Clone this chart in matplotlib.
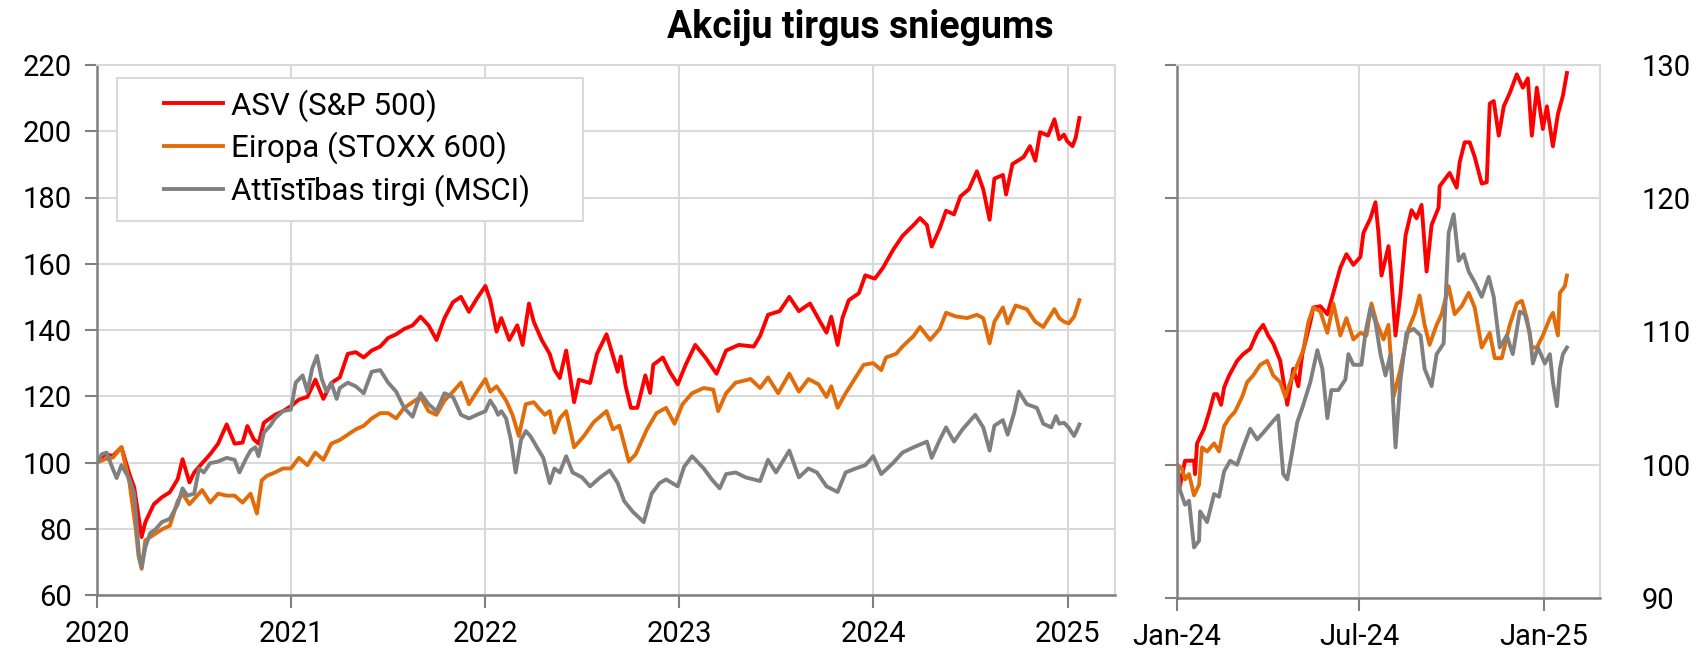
"""Akciju tirgus sniegums: two-panel stock index chart (2020-2025 and 2024-2025 rebased)."""

import matplotlib
matplotlib.use("Agg")
import matplotlib.pyplot as plt
import matplotlib.dates as mdates
from matplotlib.patches import Rectangle
import numpy as np

plt.rcParams["font.family"] = ["Roboto", "DejaVu Sans"]

# ---- long panel: months since 2020-01-01, index (2020-01 = 100) ----
spx_m = [0, 0.5, 1, 1.5, 2, 2.3, 2.55, 2.75, 3, 3.5, 4, 4.5, 5, 5.3, 5.7, 6, 6.5, 7, 7.5, 8, 8.5, 9, 9.3, 9.7,
         10, 10.3, 11, 11.5, 12, 12.5, 13, 13.5, 14, 14.5, 15, 15.5, 16, 16.5, 17, 17.5, 18, 18.5, 19, 19.5,
         20, 20.5, 21, 21.5, 22, 22.5, 23, 23.5, 24, 24.3, 24.7, 25, 25.5, 26, 26.3, 26.7, 27, 27.5, 28, 28.3,
         28.6, 29, 29.5, 29.8, 30.5, 30.9, 31.5, 32.2, 32.4, 32.7, 33, 33.4, 33.9, 34.2, 34.4, 35, 35.4, 35.9,
         36.4, 37, 37.6, 38.3, 38.9, 39.7, 40.6, 41, 41.5, 42.2, 42.8, 43.4, 44.1, 44.7, 45.1, 45.4, 45.8, 46.1,
         46.5, 47.1, 47.5, 48.1, 48.6, 49.2, 49.8, 50.5, 50.9, 51.3, 51.6, 52.1, 52.5, 53, 53.4, 53.9, 54.4,
         54.8, 55.2, 55.5, 56, 56.2, 56.6, 57.3, 57.7, 58, 58.3, 58.8, 59.2, 59.5, 59.8, 60, 60.3, 60.5, 60.75]
spx_v = [100, 102.5, 102, 104.6, 96.5, 92.5, 84, 77.5, 82, 87.4, 89.5, 91, 95, 101, 94, 97, 99.8, 102.5, 105.7,
         111.5, 105.7, 106, 111, 107, 105.7, 112, 114.4, 115.5, 117, 119, 119.8, 125, 119.2, 124, 125.7, 132.8,
         133.3, 131.7, 133.8, 135, 137.6, 138.7, 140.3, 141.4, 144, 141.4, 137, 143.6, 148.4, 150, 145.5, 149.5,
         153.3, 149, 139.5, 143.6, 137, 141.4, 135.5, 148, 142.5, 137, 132.8, 128, 125.5, 133.8, 118.2, 125, 124,
         132.8, 138.7, 127.4, 132, 123, 116.5, 116.5, 126.3, 121, 129.5, 131.7, 127.4, 123.6, 129.5, 135.5,
         131.7, 126.8, 133.8, 135.5, 135, 138.2, 144.6, 145.7, 150, 145.7, 148, 142.5, 139.2, 144, 135.5, 143.6,
         149, 151.1, 156.5, 155.5, 158.7, 164.1, 168.4, 171.7, 173.8, 171.7, 165.2, 170.6, 176, 174.9, 180.3,
         182.5, 187.9, 182.5, 173.3, 185.7, 186.8, 180.9, 190.1, 192.2, 195.5, 191.1, 199.7, 198.7, 203.6,
         197.6, 199, 197, 195.5, 198, 204]

stoxx_m = [0, 0.5, 1, 1.5, 2, 2.4, 2.55, 2.75, 3, 3.5, 4, 4.5, 5, 5.3, 5.7, 6, 6.5, 7, 7.5, 8, 8.5, 9, 9.5, 9.9,
           10.2, 10.5, 11, 11.5, 12, 12.5, 13, 13.5, 14, 14.5, 15, 15.5, 16, 16.5, 17, 17.5, 18, 18.5, 19, 19.5,
           20, 20.5, 21, 21.5, 22, 22.5, 23, 23.5, 24, 24.3, 24.7, 25, 25.3, 25.7, 26.1, 26.5, 27, 27.3, 27.7,
           28, 28.3, 28.6, 29, 29.5, 30.1, 30.7, 31.5, 31.9, 32.3, 32.9, 33.3, 34, 34.6, 35.2, 35.7, 36.2, 36.8,
           37.5, 38.1, 38.4, 38.9, 39.5, 40.4, 41, 41.5, 42.1, 42.8, 43.4, 44, 44.6, 45.1, 45.4, 45.8, 46.3,
           46.9, 47.4, 48, 48.5, 48.8, 49.4, 49.8, 50.5, 50.9, 51.5, 52.1, 52.5, 53.1, 53.8, 54.4, 54.8, 55.2,
           55.5, 56, 56.3, 56.8, 57.5, 58, 58.5, 59.2, 59.5, 59.8, 60.1, 60.4, 60.75]
stoxx_v = [100, 101, 101.5, 104.6, 94, 80, 72, 67.9, 76.5, 78.2, 79.8, 80.9, 88.4, 90.6, 87.4, 89, 91.7, 87.9,
           90.6, 90, 90, 87.9, 90.6, 84.6, 94.6, 96, 97, 98.2, 98.2, 101.4, 99.2, 103, 100.8, 105.7, 106.8, 108.4,
           110, 111.1, 113.3, 114.9, 114.9, 113.3, 116.5, 118.2, 119.8, 115.5, 114.4, 118.7, 121.4, 124.1, 117.6,
           121.4, 125.2, 121.4, 123, 120.9, 118.7, 114.4, 108, 117.6, 118.2, 116.5, 114.4, 115.5, 109, 113.3,
           115.5, 104.6, 107.9, 112.2, 115.5, 110, 111.1, 100.3, 102.5, 110, 114.9, 116.5, 111.7, 117.6, 120.9,
           122.5, 122, 115.5, 120.9, 124.1, 125.2, 122.5, 125.7, 120.9, 126.8, 121.4, 125.2, 123.6, 119.8, 123,
           116.5, 120.9, 125.7, 129.5, 130, 127.9, 131.7, 132.8, 135, 138.2, 140.9, 137, 140.3, 145.2, 144.1,
           143.6, 144.6, 143.6, 136, 142.5, 146.8, 142, 147.4, 146.3, 142.5, 140.9, 146.3, 143.6, 142.5, 142,
           144, 149]

msci_m = [0, 0.3, 0.6, 1, 1.2, 1.5, 2, 2.3, 2.6, 2.75, 3, 3.3, 3.6, 4, 4.5, 5, 5.3, 5.6, 6, 6.3, 6.6, 7, 7.5, 8,
          8.5, 8.8, 9.2, 9.5, 9.8, 10, 10.3, 10.7, 11, 11.5, 12, 12.3, 12.7, 13, 13.3, 13.6, 13.9, 14.2, 14.5,
          14.8, 15, 15.5, 16, 16.5, 17, 17.5, 18, 18.5, 19, 19.5, 20, 20.5, 21, 21.5, 22, 22.5, 23, 23.5, 24,
          24.3, 24.6, 24.8, 25, 25.3, 25.6, 25.9, 26.2, 26.5, 26.8, 27.2, 27.6, 28, 28.3, 28.6, 29, 29.4, 30,
          30.5, 31.1, 31.7, 32.2, 32.6, 33.1, 33.8, 34.3, 34.8, 35.2, 35.9, 36.3, 36.8, 37.5, 38, 38.5, 38.9,
          39.5, 40.1, 41, 41.5, 42, 42.8, 43.4, 44, 44.5, 45.1, 45.8, 46.3, 46.9, 47.5, 48, 48.5, 49.2, 49.8,
          50.5, 51.3, 51.6, 52.1, 52.5, 53, 53.5, 54.3, 54.8, 55.2, 55.5, 56, 56.3, 56.7, 57, 57.5, 58.1, 58.5,
          59, 59.3, 59.5, 59.8, 60.1, 60.4, 60.6, 60.75]
msci_v = [100, 102.5, 103, 98, 95.3, 99.2, 95, 90.6, 72.2, 68.4, 74.4, 78.7, 79.8, 82, 83, 87.4, 92.2, 90, 90.6,
          98.2, 97, 99.8, 100.3, 101.4, 100.8, 97, 101, 103.6, 104.6, 101.9, 109, 111.1, 113.3, 115.5, 116,
          124.1, 126.3, 121.4, 128.4, 132.2, 125.2, 121.4, 124.1, 119.2, 122.5, 124.1, 123, 120.9, 127.4, 127.9,
          124.1, 121.4, 116.5, 113.8, 120.9, 117.6, 115.5, 120.9, 119.8, 114.4, 113.3, 114.4, 115.5, 118.7,
          116.5, 114.4, 115.5, 113.3, 106.8, 97, 106.8, 109.5, 107.9, 104.6, 101.4, 93.8, 98.2, 97, 101.9, 97,
          95.5, 92.8, 95.5, 97.6, 93.8, 88.4, 85.2, 82, 90.6, 93.8, 94.9, 92.8, 98.7, 101.9, 98.2, 94.9, 92.2,
          96.5, 97, 95.5, 94.4, 100.8, 97, 103.6, 95.5, 98.2, 97, 92.8, 91.1, 97, 98.2, 99.2, 101.9, 96.5, 99.8,
          103, 104.6, 106.3, 101.4, 106.8, 110.6, 106.3, 110, 114.4, 110.6, 103.6, 111.1, 112.8, 108.4, 114.9,
          121.4, 117.6, 116.5, 111.7, 110.6, 114, 111.7, 112, 110.5, 108, 110, 111.5]

# ---- short panel: days since 2024-01-01, index (2024-01 = 100) ----
spx24_d = [0, 3, 8, 17, 18, 20, 27, 32, 37, 40, 44, 47, 52, 60, 66, 73, 80, 86, 91, 96, 103, 110, 116, 121, 125,
           133, 136, 143, 150, 156, 163, 169, 176, 183, 186, 193, 198, 201, 204, 211, 213, 218, 223, 228, 234,
           239, 244, 249, 254, 261, 262, 272, 279, 282, 287, 292, 297, 304, 309, 312, 316, 321, 326, 332, 339,
           345, 350, 354, 359, 365, 369, 375, 380, 385, 389]
spx24_v = [100, 98.4, 100.3, 100.3, 99.3, 101.6, 102.7, 103.9, 105.3, 105.3, 104.5, 105.8, 106.7, 107.8, 108.3,
           108.7, 109.9, 110.5, 109.7, 109.1, 107.8, 104.5, 107.2, 105.9, 108.3, 110.7, 111.8, 111.9, 111.3,
           112.9, 114.8, 115.8, 115, 115.6, 117.4, 118.5, 119.7, 117.4, 114.2, 116.4, 114.8, 109.7, 112.9, 117.2,
           119.1, 118.5, 119.5, 114.5, 118, 119.3, 120.9, 121.9, 120.8, 122.7, 124.2, 124.2, 123.1, 121.1, 121.2,
           127.1, 127.3, 124.7, 126.9, 127.9, 129.3, 128.3, 129, 124.7, 128.3, 125.2, 126.9, 123.9, 126.3, 127.7,
           129.4]

stoxx24_d = [0, 5, 8, 12, 17, 22, 25, 30, 37, 42, 47, 52, 58, 65, 70, 76, 83, 90, 96, 103, 108, 113, 120, 126,
             131, 136, 143, 150, 156, 163, 169, 176, 183, 189, 194, 199, 206, 211, 216, 223, 231, 237, 242, 247,
             252, 259, 264, 271, 277, 284, 291, 297, 304, 312, 317, 324, 332, 339, 344, 349, 354, 359, 365, 372,
             375, 380, 382, 387, 389]
stoxx24_v = [100, 99.7, 98.9, 99.3, 97.7, 98.5, 101.3, 101, 101.6, 101, 102.9, 103.5, 104, 105.1, 106.2, 106.7,
             107.5, 107.8, 106.7, 106.2, 105.1, 106.2, 107.5, 108.6, 110.7, 111.8, 111.5, 109.9, 112.1, 109.7,
             111, 109.4, 109.9, 109.7, 112.1, 110.7, 109.4, 110.5, 105.1, 107.2, 110.2, 111.3, 112.7, 110.5, 109,
             110.5, 111.3, 113.4, 111.3, 111.9, 112.9, 111.8, 108.8, 109.9, 108, 108, 110.5, 112.1, 112.3, 111,
             108.8, 108.8, 109.7, 111, 111.4, 109.7, 112.9, 113.4, 114.2]

msci24_d = [0, 3, 8, 12, 17, 22, 23, 30, 37, 42, 47, 53, 60, 66, 73, 80, 86, 95, 101, 106, 110, 115, 120, 126,
            133, 140, 145, 150, 154, 161, 168, 171, 176, 184, 188, 193, 198, 203, 208, 213, 218, 223, 229, 236,
            243, 247, 254, 259, 266, 271, 276, 281, 286, 291, 297, 304, 311, 316, 322, 329, 335, 342, 347, 352,
            355, 360, 367, 372, 375, 379, 382, 385, 389]
msci24_v = [100, 98.1, 97, 97.3, 93.8, 94.3, 96.5, 95.7, 97.8, 97.6, 99.5, 100.3, 100, 101.3, 102.7, 101.9,
            102.4, 103.2, 103.7, 99.3, 98.9, 101, 103.2, 104.5, 106.2, 108.6, 107.2, 103.5, 105.6, 105.6, 106.4,
            108.3, 107.5, 107.5, 109.9, 111.8, 110.7, 108.3, 106.7, 108.3, 101.3, 106.4, 109.9, 110.2, 109.7,
            107.2, 105.9, 108.3, 109.1, 117.4, 118.8, 115.3, 115.8, 114.5, 113.7, 112.6, 114.1, 112.6, 108.8,
            109.7, 108.3, 111.5, 111.3, 109.9, 107.6, 108.8, 107.6, 108.3, 106.2, 104.4, 107.2, 108.3, 108.8]

labels = ["ASV (S&P 500)", "Eiropa (STOXX 600)", "Attīstības tirgi (MSCI)"]
colors = ["#FF0000", "#E36C0A", "#808080"]

long_yticks = [60, 80, 100, 120, 140, 160, 180, 200, 220]
short_yticks = [90, 100, 110, 120, 130]
short_xticks = ["2024-01-01", "2024-07-01", "2025-01-01"]
short_xlabels = ["Jan-24", "Jul-24", "Jan-25"]


def months_to_dates(months):
    start = np.datetime64("2020-01-01")
    return np.array([start + np.timedelta64(int(round(m * 30.44)), "D") for m in months])


def days_to_dates(days):
    start = np.datetime64("2024-01-01")
    return np.array([start + np.timedelta64(int(d), "D") for d in days])


GRID = "#D9D9D9"
SPINE = "#808080"
FS = 21
LW = 2.8

fig = plt.figure(figsize=(16.92, 6.52), dpi=100)
ax1 = fig.add_axes([97 / 1692, 1 - 595 / 652, 1018 / 1692, 530 / 652])
ax2 = fig.add_axes([1177 / 1692, 1 - 598 / 652, 423 / 1692, 533 / 652])

long_series = [(spx_m, spx_v), (stoxx_m, stoxx_v), (msci_m, msci_v)]
for (m, v), lab, col in zip(long_series, labels, colors):
    ax1.plot(months_to_dates(m), v, color=col, lw=LW, label=lab, solid_joinstyle="round")

short_series = [(spx24_d, spx24_v), (stoxx24_d, stoxx24_v), (msci24_d, msci24_v)]
for (d, v), col in zip(short_series, colors):
    ax2.plot(days_to_dates(d), v, color=col, lw=LW, solid_joinstyle="round")

for ax in (ax1, ax2):
    ax.grid(True, color=GRID, lw=1.5)
    ax.set_axisbelow(True)
    for side in ("top", "right"):
        ax.spines[side].set_color(GRID)
        ax.spines[side].set_linewidth(1.5)
    for side in ("left", "bottom"):
        ax.spines[side].set_color(SPINE)
        ax.spines[side].set_linewidth(1.8)
    ax.tick_params(axis="both", direction="out", length=9, width=1.5, color=SPINE,
                   labelsize=FS, labelcolor="black")

ax1.set_xlim(np.datetime64("2020-01-01"), np.datetime64("2025-03-31"))
ax1.set_ylim(60, 220)
ax1.set_yticks(long_yticks)
ax1.xaxis.set_major_locator(mdates.YearLocator())
ax1.xaxis.set_major_formatter(mdates.DateFormatter("%Y"))
ax1.tick_params(axis="x", pad=9)
ax1.tick_params(axis="y", pad=9)

ax2.set_xlim(np.datetime64("2024-01-01"), np.datetime64("2025-02-26"))
ax2.set_ylim(90, 130)
ax2.set_yticks(short_yticks)
ax2.set_xticks([np.datetime64(t) for t in short_xticks])
ax2.set_xticklabels(short_xlabels)
ax2.tick_params(axis="x", pad=9)
ax2.tick_params(axis="y", left=True, right=False, labelleft=False, labelright=True, pad=21)

# legend box with white fill, then the entries without their own frame
ax1.add_patch(Rectangle((116.5 / 1692, 1 - 221 / 652), 466.5 / 1692, 143.3 / 652,
                        transform=fig.transFigure, facecolor="white", edgecolor=GRID,
                        lw=1.5, zorder=4, clip_on=False))
leg = ax1.legend(loc="upper left", bbox_to_anchor=(164 / 1692, 1 - 89 / 652),
                 bbox_transform=fig.transFigure, frameon=False, fontsize=22.5,
                 handlelength=1.9, handletextpad=0.25, labelspacing=0.32,
                 borderpad=0, borderaxespad=0)
leg.set_zorder(5)

fig.text(860 / 1692, 1 - 27 / 652, "Akciju tirgus sniegums", ha="center", va="center",
         fontsize=27, fontweight="bold")

fig.savefig("out.png", dpi=100)
plt.close(fig)
